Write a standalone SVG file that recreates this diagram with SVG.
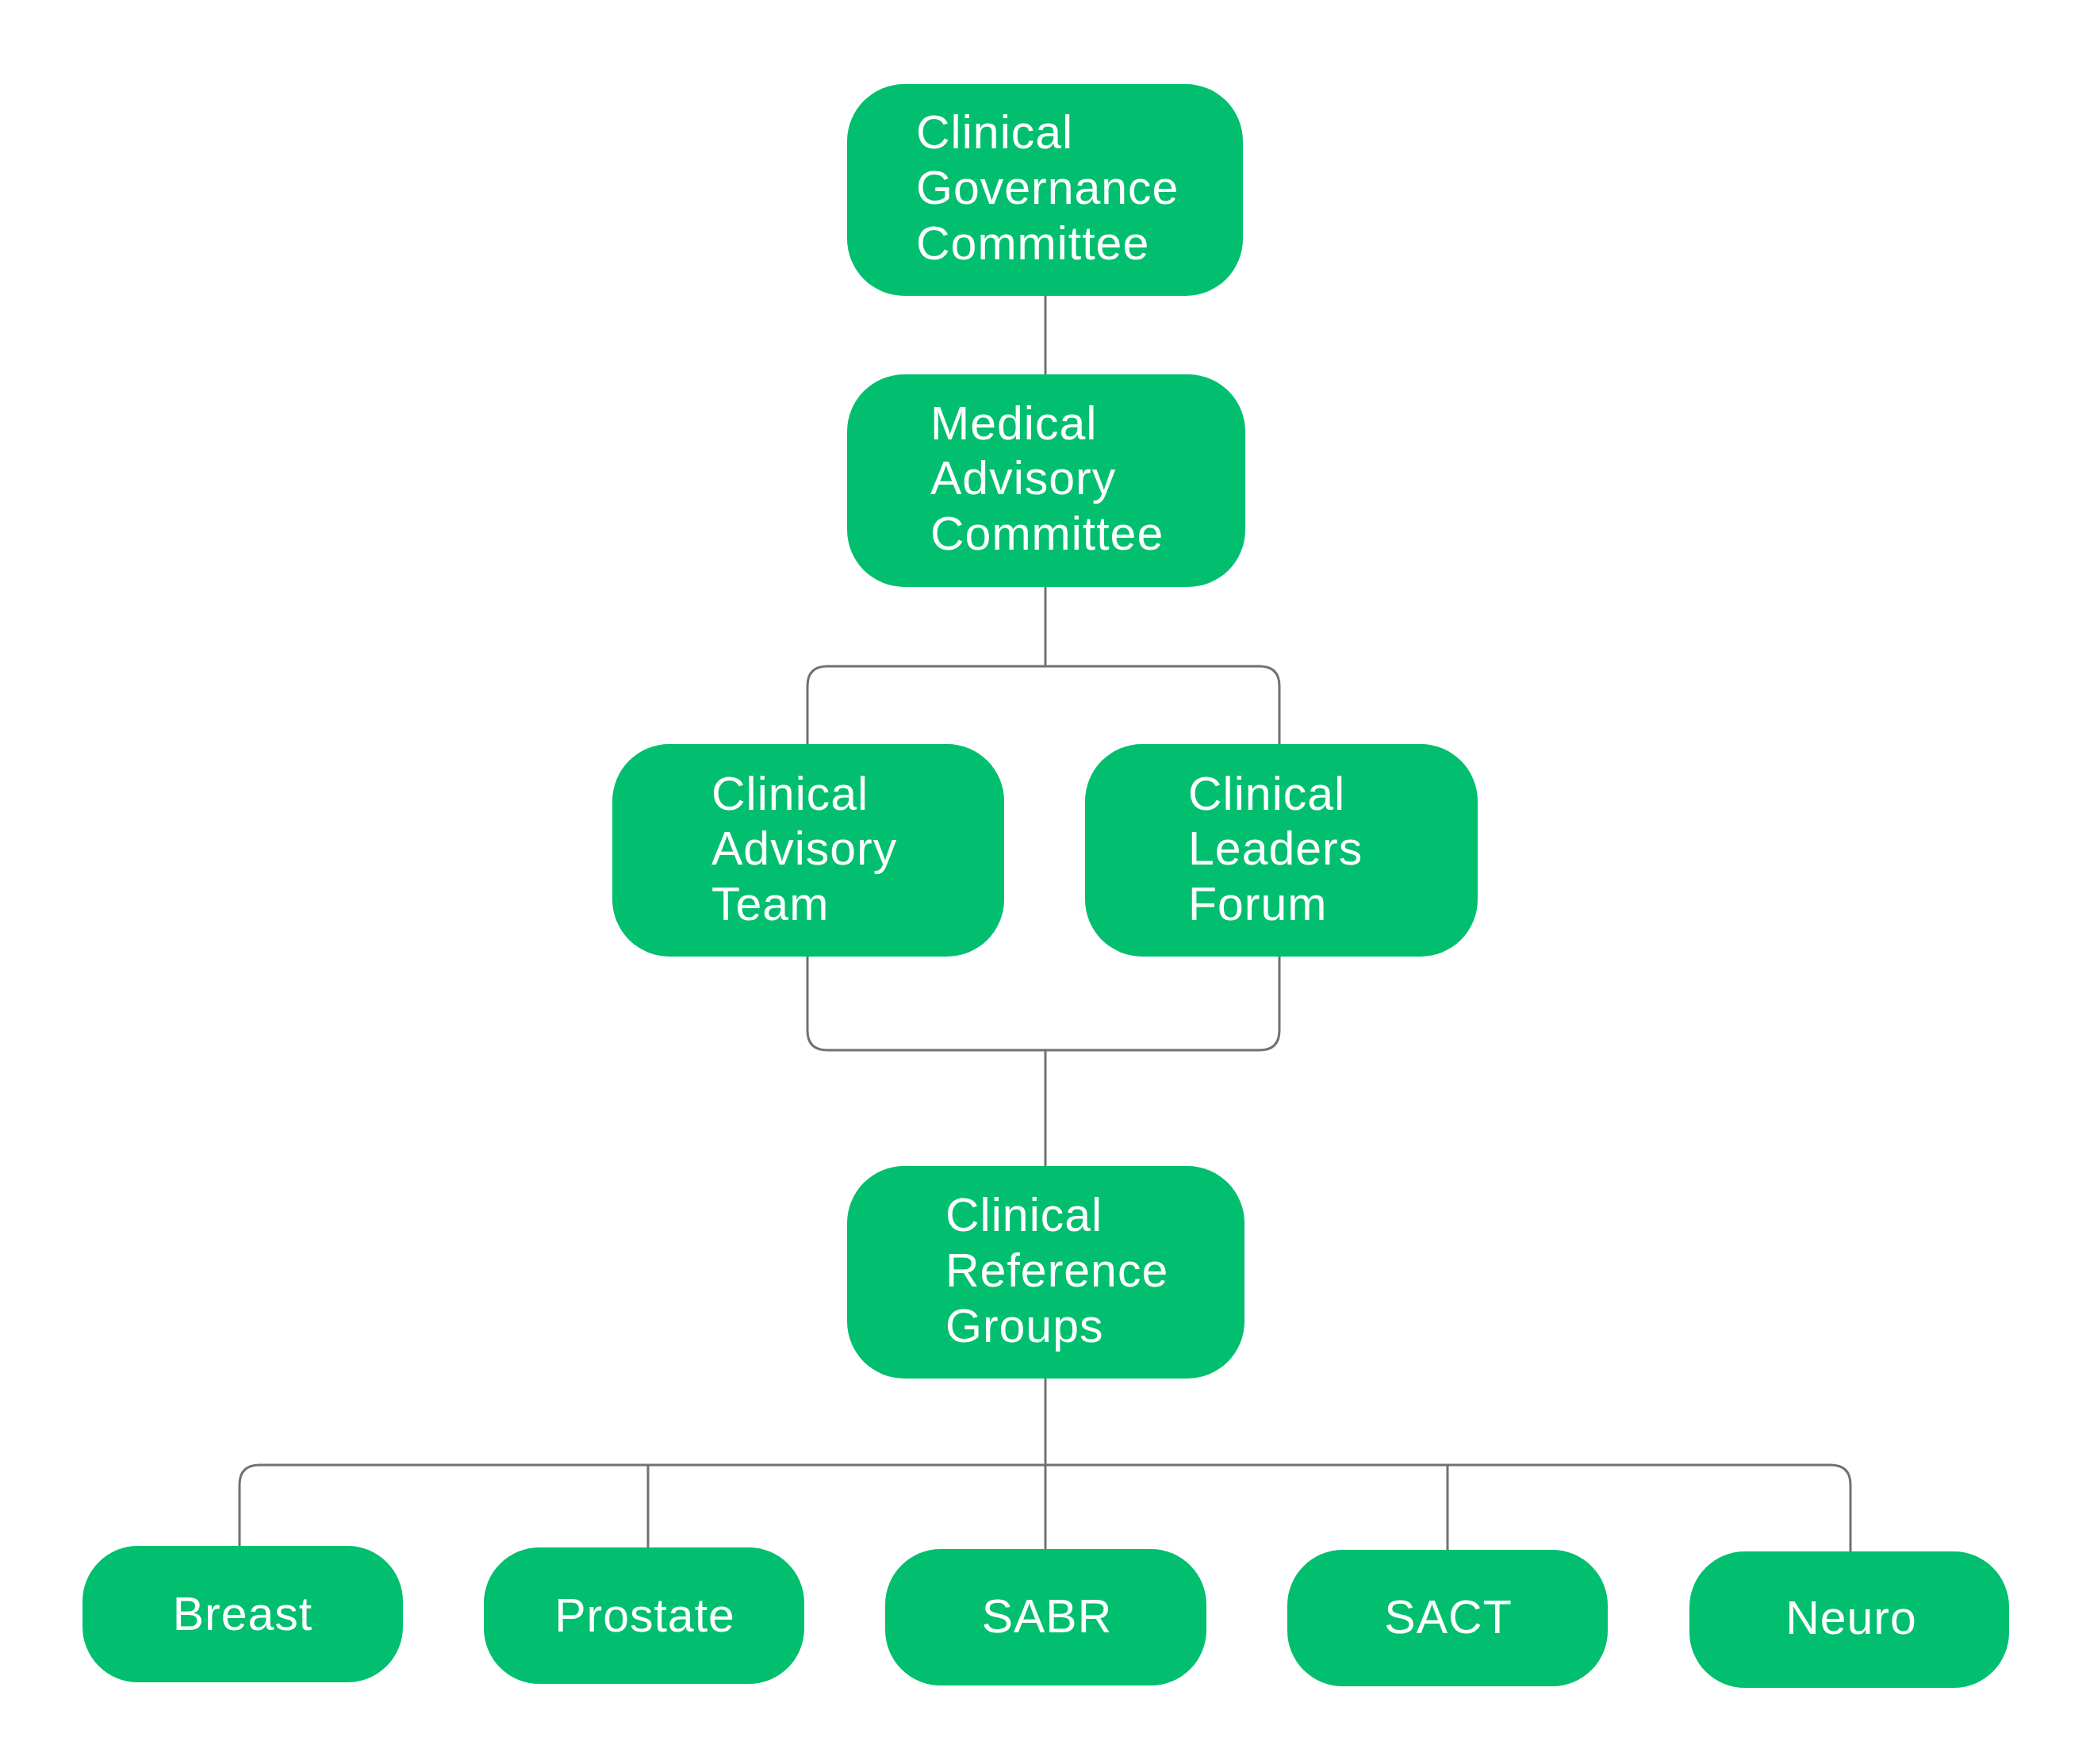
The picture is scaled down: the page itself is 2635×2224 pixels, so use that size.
<svg xmlns="http://www.w3.org/2000/svg" width="2635" height="2224" viewBox="0 0 2635 2224">
<style>
.node{fill:#02BF6F}
.lbl{font-family:"Liberation Sans",Arial,sans-serif;font-size:59px;letter-spacing:1px;fill:#ffffff}
.c{text-anchor:middle}
.conn{fill:none;stroke:#717171;stroke-width:3}
</style>
<rect width="2635" height="2224" fill="#ffffff"/>
<g id="connectors">
<path class="conn" d="M1318 373 V472"/>
<path class="conn" d="M1318 740 V840"/>
<path class="conn" d="M1018 938 V865 Q1018 840 1043 840 H1588 Q1613 840 1613 865 V938"/>
<path class="conn" d="M1018 1206 V1299 Q1018 1324 1043 1324 H1588 Q1613 1324 1613 1299 V1206"/>
<path class="conn" d="M1318 1324 V1470"/>
<path class="conn" d="M1318 1738 V1847"/>
<path class="conn" d="M302 1949 V1872 Q302 1847 327 1847 H2308 Q2333 1847 2333 1872 V1956"/>
<path class="conn" d="M817 1847 V1951"/>
<path class="conn" d="M1318 1847 V1953"/>
<path class="conn" d="M1825 1847 V1954"/>
</g>
<g id="clinical-governance-committee">
<rect class="node" x="1068" y="106" width="499" height="267" rx="72"/>
<text class="lbl" x="1155" y="187">Clinical<tspan x="1155" y="257">Governance</tspan><tspan x="1155" y="327">Committee</tspan></text>
</g>
<g id="medical-advisory-committee">
<rect class="node" x="1068" y="472" width="502" height="268" rx="72"/>
<text class="lbl" x="1173" y="554">Medical<tspan x="1173" y="623">Advisory</tspan><tspan x="1173" y="693">Committee</tspan></text>
</g>
<g id="clinical-advisory-team">
<rect class="node" x="772" y="938" width="494" height="268" rx="72"/>
<text class="lbl" x="897" y="1021">Clinical<tspan x="897" y="1090">Advisory</tspan><tspan x="897" y="1160">Team</tspan></text>
</g>
<g id="clinical-leaders-forum">
<rect class="node" x="1368" y="938" width="495" height="268" rx="72"/>
<text class="lbl" x="1498" y="1021">Clinical<tspan x="1498" y="1090">Leaders</tspan><tspan x="1498" y="1160">Forum</tspan></text>
</g>
<g id="clinical-reference-groups">
<rect class="node" x="1068" y="1470" width="501" height="268" rx="72"/>
<text class="lbl" x="1192" y="1552">Clinical<tspan x="1192" y="1622">Reference</tspan><tspan x="1192" y="1692">Groups</tspan></text>
</g>
<g id="breast">
<rect class="node" x="104" y="1949" width="404" height="172" rx="70"/>
<text class="lbl c" x="306" y="2055">Breast</text>
</g>
<g id="prostate">
<rect class="node" x="610" y="1951" width="404" height="172" rx="70"/>
<text class="lbl c" x="813" y="2057">Prostate</text>
</g>
<g id="sabr">
<rect class="node" x="1116" y="1953" width="405" height="172" rx="70"/>
<text class="lbl c" x="1320" y="2058">SABR</text>
</g>
<g id="sact">
<rect class="node" x="1623" y="1954" width="404" height="172" rx="70"/>
<text class="lbl c" x="1826" y="2059">SACT</text>
</g>
<g id="neuro">
<rect class="node" x="2130" y="1956" width="403" height="172" rx="70"/>
<text class="lbl c" x="2334" y="2060">Neuro</text>
</g>
</svg>
